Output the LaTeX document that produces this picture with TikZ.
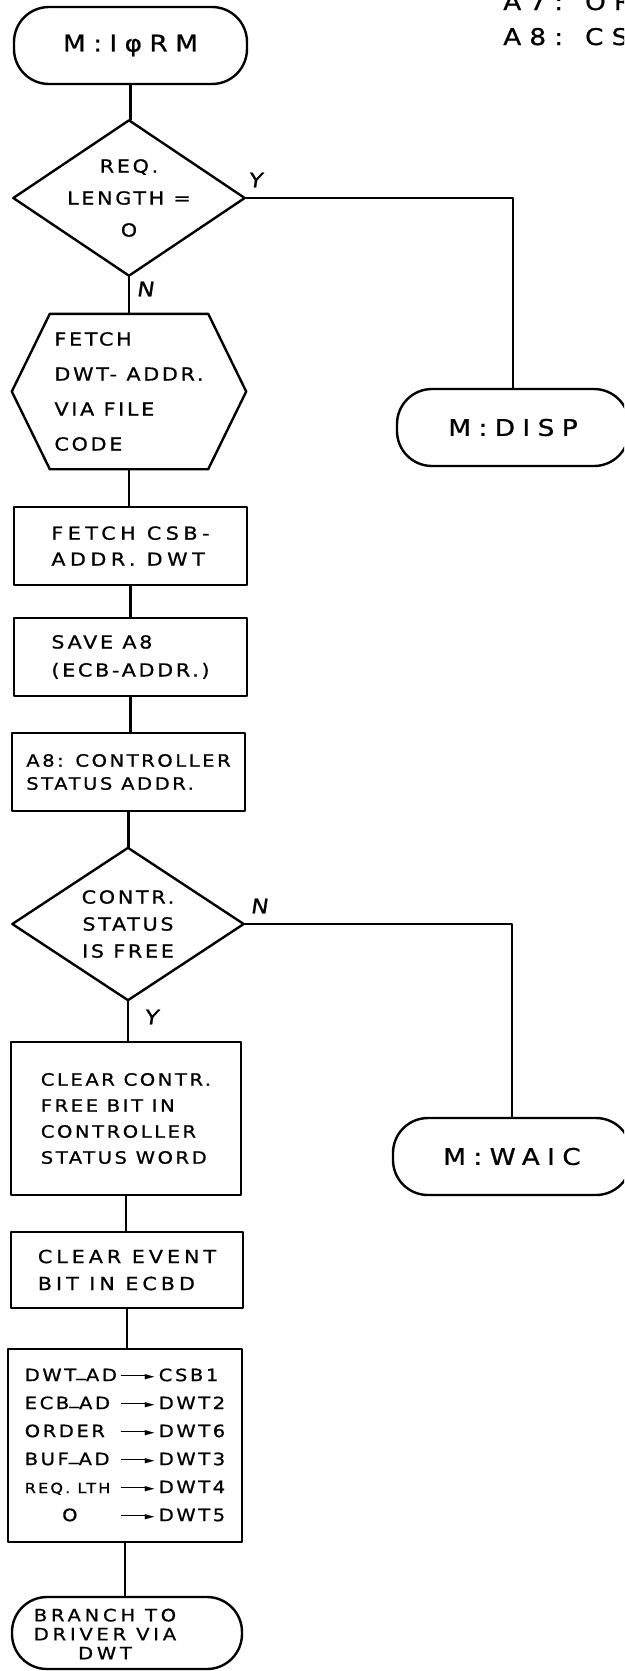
\documentclass[tikz,border=0pt]{standalone}
\usepackage{fontspec}
\setmainfont{DejaVu Sans}[FakeStretch=1.15, LetterSpace=15, FakeBold=0.8]
\usetikzlibrary{calc}
% font settings for the different kinds of lettering
\newcommand{\fcBox}{\fontsize{18}{26}\selectfont}
\newcommand{\fcTerm}{\fontsize{23}{24}\selectfont\addfontfeatures{LetterSpace=32}}
\newcommand{\fcTab}{\fontsize{17}{28}\selectfont}
\newcommand{\fcTag}{\fontsize{20}{22}\selectfont\addfontfeatures{FakeSlant=0.15}}
\newcommand{\fcNote}{\fontsize{23}{26}\selectfont\addfontfeatures{LetterSpace=35}}
\newcommand{\lowbar}{\raisebox{0.3em}{\_}}
% hand-drawn style arrow used in the assignment table
\newcommand{\arr}{\raisebox{4.8pt}{\rule{27pt}{1.8pt}}\kern-3pt\raisebox{1.8pt}{\fontsize{10}{10}\selectfont ►}}
\begin{document}
\begin{tikzpicture}[x=1pt, y=-1pt, line width=2.4pt, line join=round,
  terminal/.style={draw, rectangle, rounded corners=35pt, inner sep=0pt, align=center, font=\fcTerm},
  stepbox/.style={draw, rectangle, inner sep=0pt, align=left, font=\fcBox},
  outline/.style={rectangle, inner sep=0pt, font=\fcBox},
  tag/.style={inner sep=0pt, font=\fcTag},
  note/.style={inner sep=0pt, anchor=base west, font=\fcNote}]
\useasboundingbox (0,0) rectangle (624,1671);
\clip (0,0) rectangle (624,1671);

% register notes in the upper right corner
\node[note] (regA) at (502,10) {A7: OR};
\node[note] (regB) at (502,45) {A8: CS};

% main column
\node[terminal, minimum width=233pt, minimum height=77pt] (start) at (130.5,45.5) {M:IφRM};

\node[outline, minimum width=229pt, minimum height=153pt, align=center,
      font=\fontsize{18}{32}\selectfont] (d1) at (129,198) {REQ.\\LENGTH =\\O};
\draw (d1.north) -- (d1.east) -- (d1.south) -- (d1.west) -- cycle;

\node[outline, minimum width=232pt, minimum height=153pt, align=left,
      font=\fontsize{18}{35}\selectfont] (hex) at (129,391.5) {FETCH\\DWT- ADDR.\\VIA FILE\\CODE};
\draw ($(hex.north west)+(38,0)$) -- ($(hex.north east)+(-38,0)$) -- (hex.east)
   -- ($(hex.south east)+(-38,0)$) -- ($(hex.south west)+(38,0)$) -- (hex.west) -- cycle;

\node[stepbox, minimum width=233pt, minimum height=78pt, font=\fontsize{18}{26}\selectfont\addfontfeatures{LetterSpace=25}] (csb) at (130.5,546) {FETCH CSB-\\ADDR. DWT};
\node[stepbox, minimum width=233pt, minimum height=78pt, font=\fontsize{18}{28}\selectfont] (save) at (130.5,657) {SAVE A8\\(ECB-ADDR.)};
\node[stepbox, minimum width=233pt, minimum height=78pt, font=\fontsize{17}{23}\selectfont] (ctl) at (128.5,772) {A8: CONTROLLER\\STATUS ADDR.};

\node[outline, minimum width=229pt, minimum height=150pt, align=center,
      font=\fontsize{18}{27}\selectfont] (d2) at (128,924) {CONTR.\\STATUS\\IS FREE};
\draw (d2.north) -- (d2.east) -- (d2.south) -- (d2.west) -- cycle;

\node[stepbox, minimum width=230pt, minimum height=153pt, font=\fontsize{17}{26}\selectfont] (clr) at (126,1118.5)
  {CLEAR CONTR.\\FREE BIT IN\\CONTROLLER\\STATUS WORD};
\node[stepbox, minimum width=232pt, minimum height=76pt, font=\fontsize{18}{27}\selectfont\addfontfeatures{LetterSpace=22}] (evt) at (127,1270)
  {CLEAR EVENT\\BIT IN ECBD};
\node[stepbox, minimum width=234pt, minimum height=193pt, font=\fcTab] (load) at (125,1445.5) {%
  \begin{tabular}{@{}l@{\hspace{4pt}}c@{\hspace{5pt}}l@{}}
  DWT\lowbar AD & \arr & CSB1\\
  ECB\lowbar AD & \arr & DWT2\\
  ORDER & \arr & DWT6\\
  BUF\lowbar AD & \arr & DWT3\\
  {\fontsize{14}{14}\selectfont REQ. LTH} & \arr & DWT4\\
  \multicolumn{1}{@{}c}{O} & \arr & DWT5
  \end{tabular}};

\node[terminal, minimum width=230pt, minimum height=72pt] (branch) at (127,1633) {};
\node[inner sep=0pt, align=center, font=\fontsize{17}{19}\selectfont\addfontfeatures{LetterSpace=22}] (branchtxt) at (105,1634)
  {BRANCH TO\\DRIVER VIA\\DWT};

% exits on the right
\node[terminal, minimum width=232pt, minimum height=77pt] (disp) at (513,427.5) {M:DISP};
\node[terminal, minimum width=238pt, minimum height=77pt] (waic) at (512,1156.5) {M:WAIC};

% flow lines
\draw (start.south) -- (start.south |- d1.north);
\draw (d1.south) -- (d1.south |- hex.north);
\draw (hex.south) -- (hex.south |- csb.north);
\draw (csb.south) -- (csb.south |- save.north);
\draw (save.south) -- (save.south |- ctl.north);
\draw (ctl.south) -- (ctl.south |- d2.north);
\draw (d2.south) -- (d2.south |- clr.north);
\draw (clr.south) -- (clr.south |- evt.north);
\draw (evt.south) -- (evt.south |- load.north);
\draw (load.south) -- (load.south |- branch.north);
\draw (d1.east) -| (disp.north);
\draw (d2.east) -| (waic.north);

% branch labels
\node[tag] (yes1) at (255,180) {Y};
\node[tag] (no1) at (145,289) {N};
\node[tag] (no2) at (259,906) {N};
\node[tag] (yes2) at (151,1017) {Y};
\end{tikzpicture}
\end{document}
